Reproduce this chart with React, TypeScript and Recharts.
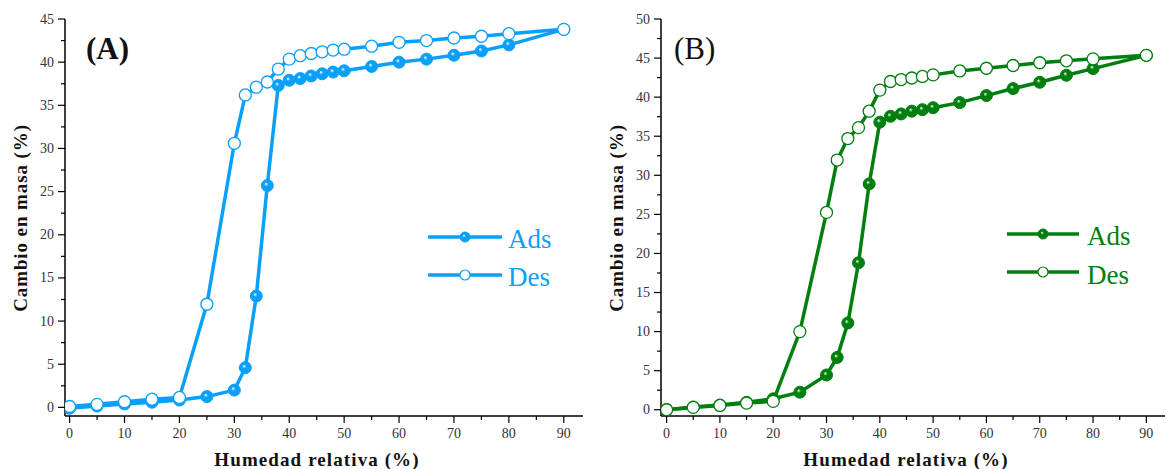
import React from 'react';
import { LineChart, Line, XAxis, YAxis } from 'recharts';

const humedad = [0, 5, 10, 15, 20, 25, 30, 32, 34, 36, 38, 40, 42, 44, 46, 48, 50, 55, 60, 65, 70, 75, 80, 90];

const adsA = [-0.1, 0.15, 0.4, 0.6, 0.85, 1.25, 2.0, 4.6, 12.9, 25.7, 37.3, 37.9, 38.1, 38.4, 38.65, 38.85, 39.0, 39.5, 40.0, 40.35, 40.8, 41.3, 42.0, 43.8];
const desA = [0.1, 0.35, 0.65, 0.95, 1.15, 11.95, 30.6, 36.2, 37.1, 37.7, 39.2, 40.35, 40.75, 41.0, 41.2, 41.4, 41.5, 41.85, 42.3, 42.5, 42.8, 43.0, 43.3, 43.8];

const adsB = [0, 0.35, 0.6, 0.95, 1.4, 2.25, 4.45, 6.7, 11.1, 18.8, 28.9, 36.8, 37.55, 37.85, 38.2, 38.4, 38.65, 39.3, 40.2, 41.1, 41.9, 42.8, 43.65, 45.35];
const desB = [0, 0.3, 0.55, 0.85, 1.07, 10.0, 25.25, 31.95, 34.7, 36.1, 38.2, 40.9, 42.0, 42.25, 42.45, 42.65, 42.85, 43.35, 43.7, 44.05, 44.4, 44.65, 44.9, 45.35];

const xTicks = [0, 5, 10, 15, 20, 25, 30, 35, 40, 45, 50, 55, 60, 65, 70, 75, 80, 85, 90];
const yTicksA = [0, 2.5, 5, 7.5, 10, 12.5, 15, 17.5, 20, 22.5, 25, 27.5, 30, 32.5, 35, 37.5, 40, 42.5, 45];
const yTicksB = [0, 2.5, 5, 7.5, 10, 12.5, 15, 17.5, 20, 22.5, 25, 27.5, 30, 32.5, 35, 37.5, 40, 42.5, 45, 47.5, 50];

const seriesNames = ['Ads', 'Des'];
const xLabel = 'Humedad relativa (%)';
const yLabel = 'Cambio en masa (%)';

const BLUE = '#0AA0FA';
const GREEN = '#007F0E';
const FONT = '"Liberation Serif", "DejaVu Serif", serif';

const build = (ads: number[], des: number[]) =>
  humedad.map((x, i) => ({ x, ads: ads[i], des: des[i] }));

const YTick = (props: any) => {
  const { x, y, payload } = props;
  const v = payload.value;
  const major = v % 5 === 0;
  return (
    <g>
      <line x1={x} x2={x - (major ? 7 : 4)} y1={y} y2={y} stroke="#000" strokeWidth={1.2} />
      {major && (
        <text x={x - 11} y={y + 4.5} textAnchor="end" fontSize={14} fill="#333" fontFamily={FONT}>
          {v}
        </text>
      )}
    </g>
  );
};

const XTick = (props: any) => {
  const { x, y, payload } = props;
  const v = payload.value;
  const major = v % 10 === 0;
  return (
    <g>
      <line x1={x} x2={x} y1={y} y2={y + (major ? 7 : 4)} stroke="#000" strokeWidth={1.2} />
      {major && (
        <text x={x} y={y + 22} textAnchor="middle" fontSize={14} fill="#333" fontFamily={FONT}>
          {v}
        </text>
      )}
    </g>
  );
};

const AdsDot = (color: string, gid: string, r: number) => (props: any) => {
  const { cx, cy, index } = props;
  if (cx == null || cy == null) return <g key={index} />;
  return <circle key={index} cx={cx} cy={cy} r={r} fill={`url(#${gid})`} stroke={color} strokeWidth={1} />;
};

type LegendSpec = { lx1: number; lx2: number; ys: number[]; tx: number; tys: number[] };

type PanelProps = {
  left: number;
  color: string;
  gid: string;
  data: any[];
  yTicks: number[];
  yDomain: [number, number];
  xDomain: [number, number];
  yAxisWidth: number;
  marginRight: number;
  tag: string;
  tagX: number;
  tagBold: boolean;
  yLabelX: number;
  xLabelX: number;
  legend: LegendSpec;
};

const Panel = (p: PanelProps) => {
  const lg = p.legend;
  const mx = (lg.lx1 + lg.lx2) / 2;
  return (
    <div style={{ position: 'absolute', left: p.left, top: 0, width: 590, height: 469 }}>
      <LineChart width={590} height={469} data={p.data} margin={{ top: 19, right: p.marginRight, bottom: 0, left: 0 }}>
        <defs>
          <radialGradient id={p.gid} cx="0.5" cy="0.5" r="0.5" fx="0.38" fy="0.35">
            <stop offset="0%" stopColor="#ffffff" />
            <stop offset="35%" stopColor={p.color} />
            <stop offset="100%" stopColor={p.color} />
          </radialGradient>
        </defs>
        <XAxis
          type="number"
          dataKey="x"
          domain={p.xDomain}
          ticks={xTicks}
          allowDataOverflow
          interval={0}
          height={53}
          tickSize={0}
          tickMargin={0}
          tickLine={false}
          tick={<XTick />}
          axisLine={{ stroke: '#000', strokeWidth: 1.5 }}
        />
        <YAxis
          type="number"
          domain={p.yDomain}
          ticks={p.yTicks}
          allowDataOverflow
          interval={0}
          width={p.yAxisWidth}
          tickSize={0}
          tickMargin={0}
          tickLine={false}
          tick={<YTick />}
          axisLine={{ stroke: '#000', strokeWidth: 1.5 }}
        />
        <Line
          type="linear"
          dataKey="ads"
          stroke={p.color}
          strokeWidth={3.5}
          dot={AdsDot(p.color, p.gid, 6)}
          activeDot={false}
          isAnimationActive={false}
        />
        <Line
          type="linear"
          dataKey="des"
          stroke={p.color}
          strokeWidth={3.5}
          dot={{ r: 6, fill: '#fff', stroke: p.color, strokeWidth: 1.3 }}
          activeDot={false}
          isAnimationActive={false}
        />
      </LineChart>
      <svg width={590} height={469} style={{ position: 'absolute', left: 0, top: 0, pointerEvents: 'none' }}>
        <text x={p.tagX} y={59} fontSize={31} fontWeight={p.tagBold ? 'bold' : 'normal'} fill="#111" fontFamily={FONT}>
          {p.tag}
        </text>
        <text
          x={p.yLabelX}
          y={218}
          transform={`rotate(-90 ${p.yLabelX} 218)`}
          textAnchor="middle"
          dominantBaseline="central"
          fontSize={19}
          fontWeight="bold"
          letterSpacing={0.9}
          fill="#111"
          fontFamily={FONT}
        >
          {yLabel}
        </text>
        <text x={p.xLabelX} y={466} textAnchor="middle" fontSize={19} fontWeight="bold" letterSpacing={1.1} fill="#111" fontFamily={FONT}>
          {xLabel}
        </text>
        <line x1={lg.lx1} x2={lg.lx2} y1={lg.ys[0]} y2={lg.ys[0]} stroke={p.color} strokeWidth={3.5} />
        <circle cx={mx} cy={lg.ys[0]} r={5} fill={`url(#${p.gid})`} stroke={p.color} strokeWidth={1} />
        <text x={lg.tx} y={lg.tys[0]} fontSize={27} fill={p.color} fontFamily={FONT}>{seriesNames[0]}</text>
        <line x1={lg.lx1} x2={lg.lx2} y1={lg.ys[1]} y2={lg.ys[1]} stroke={p.color} strokeWidth={3.5} />
        <circle cx={mx} cy={lg.ys[1]} r={5} fill="#fff" stroke={p.color} strokeWidth={1.2} />
        <text x={lg.tx} y={lg.tys[1]} fontSize={27} fill={p.color} fontFamily={FONT}>{seriesNames[1]}</text>
      </svg>
    </div>
  );
};

export default function App() {
  return (
    <div style={{ position: 'absolute', left: 0, top: 0, width: 1170, height: 469, background: '#fff', overflow: 'hidden' }}>
      <Panel
        left={0}
        color={BLUE}
        gid="gradA"
        data={build(adsA, desA)}
        yTicks={yTicksA}
        yDomain={[-1, 45]}
        xDomain={[-0.84, 93.5]}
        yAxisWidth={65}
        marginRight={7}
        tag="(A)"
        tagX={86}
        tagBold={true}
        yLabelX={20}
        xLabelX={317}
        legend={{ lx1: 428, lx2: 502, ys: [237, 275], tx: 508, tys: [248, 286] }}
      />
      <Panel
        left={580}
        color={GREEN}
        gid="gradB"
        data={build(adsB, desB)}
        yTicks={yTicksB}
        yDomain={[-0.8, 50]}
        xDomain={[-1.05, 93.5]}
        yAxisWidth={81}
        marginRight={5}
        tag="(B)"
        tagX={94}
        tagBold={false}
        yLabelX={36.5}
        xLabelX={326}
        legend={{ lx1: 427, lx2: 499, ys: [234, 272], tx: 507, tys: [245, 284] }}
      />
    </div>
  );
}
